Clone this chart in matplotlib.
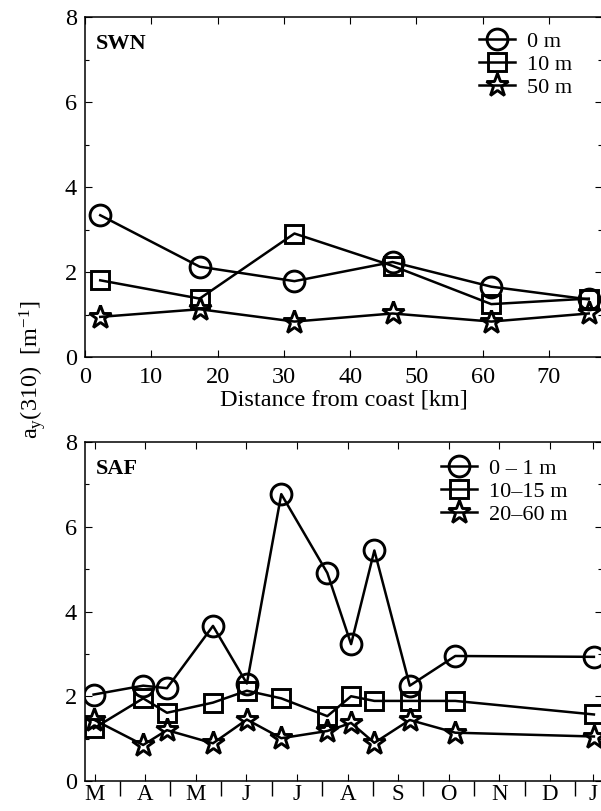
import matplotlib
matplotlib.use("Agg")
import matplotlib.pyplot as plt
from matplotlib.ticker import MultipleLocator, FixedLocator, NullFormatter

plt.rcParams['font.family'] = ['Liberation Serif', 'DejaVu Serif']
plt.rcParams['mathtext.fontset'] = 'custom'
plt.rcParams['mathtext.rm'] = 'Liberation Serif'
plt.rcParams['mathtext.it'] = 'Liberation Serif:italic'

# ---- Top panel (SWN): distance from coast [km]
swn_dist = [2.3, 17.3, 31.6, 46.4, 61.3, 76.0]
swn_0m = [3.34, 2.13, 1.79, 2.24, 1.66, 1.36]
swn_10m = [1.81, 1.38, 2.91, 2.15, 1.25, 1.38]
swn_50m = [0.95, 1.13, 0.84, 1.03, 0.84, 1.03]
swn_labels = ['0 m', '10 m', '50 m']

# ---- Bottom panel (SAF): time in months (0 = 1 March, 10 = 1 January)
saf_time = [0.48, 1.46, 1.93, 2.84, 3.51, 4.19, 5.10, 5.57, 6.03, 6.73, 7.63, 10.37]
saf_0_1m = [2.04, 2.25, 2.19, 3.66, 2.30, 6.77, 4.91, 3.23, 5.44, 2.25, 2.95, 2.93]
saf_10_15m = [1.24, 1.95, 1.61, 1.85, 2.13, 1.95, 1.53, 2.00, 1.89, 1.89, 1.89, 1.57]
saf_20_60m = [1.45, 0.85, 1.20, 0.89, 1.45, 1.01, 1.18, 1.37, 0.90, 1.44, 1.14, 1.05]
saf_labels = ['0 \u2013 1 m', '10\u201315 m', '20\u201360 m']
month_labels = ['M', 'A', 'M', 'J', 'J', 'A', 'S', 'O', 'N', 'D', 'J']
month_label_pos = [0.5, 1.5, 2.5, 3.5, 4.5, 5.5, 6.5, 7.5, 8.5, 9.5, 10.36]

W, H = 601, 811
fig = plt.figure(figsize=(W / 100, H / 100), dpi=100)

def fx(px):
    return px / W

def fy(py):
    return 1 - py / H

L, R = 85, 602
ax1 = fig.add_axes([fx(L), fy(357.3), fx(R - L), (357.3 - 17) / H])
ax2 = fig.add_axes([fx(L), fy(781), fx(R - L), (781 - 442) / H])

lw = 1.8
mew = 2.1
styles = [dict(marker='o', ms=15), dict(marker='s', ms=12.5), dict(marker='*', ms=17)]

def draw(ax, x, ys, labels):
    for y, st, lab in zip(ys, styles, labels):
        ax.plot(x, y, color='black', lw=lw, mfc='none', mec='black', mew=mew,
                label=lab, clip_on=True, **st)

draw(ax1, swn_dist, [swn_0m, swn_10m, swn_50m], swn_labels)
draw(ax2, saf_time, [saf_0_1m, saf_10_15m, saf_20_60m], saf_labels)

fs = 17.5
for ax in (ax1, ax2):
    ax.set_ylim(0, 8)
    ax.yaxis.set_major_locator(MultipleLocator(2))
    ax.yaxis.set_minor_locator(MultipleLocator(1))
    ax.tick_params(axis='y', which='major', direction='in', left=True, right=True,
                   length=5, width=0.8, labelsize=fs, pad=6)
    ax.tick_params(axis='y', which='minor', direction='in', left=True, right=True,
                   length=3, width=0.8)
    for s in ax.spines.values():
        s.set_linewidth(1.1)

ax1.set_xlim(0, 78)
ax1.xaxis.set_major_locator(MultipleLocator(10))
ax1.tick_params(axis='x', which='major', direction='in', top=True, bottom=True,
                length=5, width=0.8, labelsize=fs, pad=7)
ax1.set_xlabel('Distance from coast [km]', fontsize=fs, labelpad=1)

ax2.set_xlim(0.31, 10.53)
ax2.xaxis.set_major_locator(FixedLocator(month_label_pos))
ax2.set_xticklabels(month_labels)
ax2.xaxis.set_minor_locator(FixedLocator(list(range(1, 11))))
ax2.xaxis.set_minor_formatter(NullFormatter())
ax2.tick_params(axis='x', which='major', direction='in', top=True, bottom=True,
                length=5, width=0.8, labelsize=16.5, pad=2)
ax2.tick_params(axis='x', which='minor', direction='out', top=False, bottom=True,
                length=11, width=1.0)

ax1.text(0.02, 0.92, 'SWN', transform=ax1.transAxes, fontsize=16, fontweight='bold',
         ha='left', va='center')
ax2.text(0.02, 0.92, 'SAF', transform=ax2.transAxes, fontsize=16, fontweight='bold',
         ha='left', va='center')

leg_kw = dict(frameon=False, fontsize=16, handlelength=1.6, handletextpad=0.55,
              labelspacing=0.1, borderpad=0, borderaxespad=0, loc='upper left')
ax1.legend(bbox_to_anchor=(0.762, 0.957), **leg_kw)
ax2.legend(bbox_to_anchor=(0.689, 0.951), **leg_kw)

fig.text(fx(33), fy(370), r'a$_{\rm y}$(310)  [m$^{-1}$]', rotation=90,
         fontsize=fs, ha='center', va='center')

fig.savefig('out.png', dpi=100)
